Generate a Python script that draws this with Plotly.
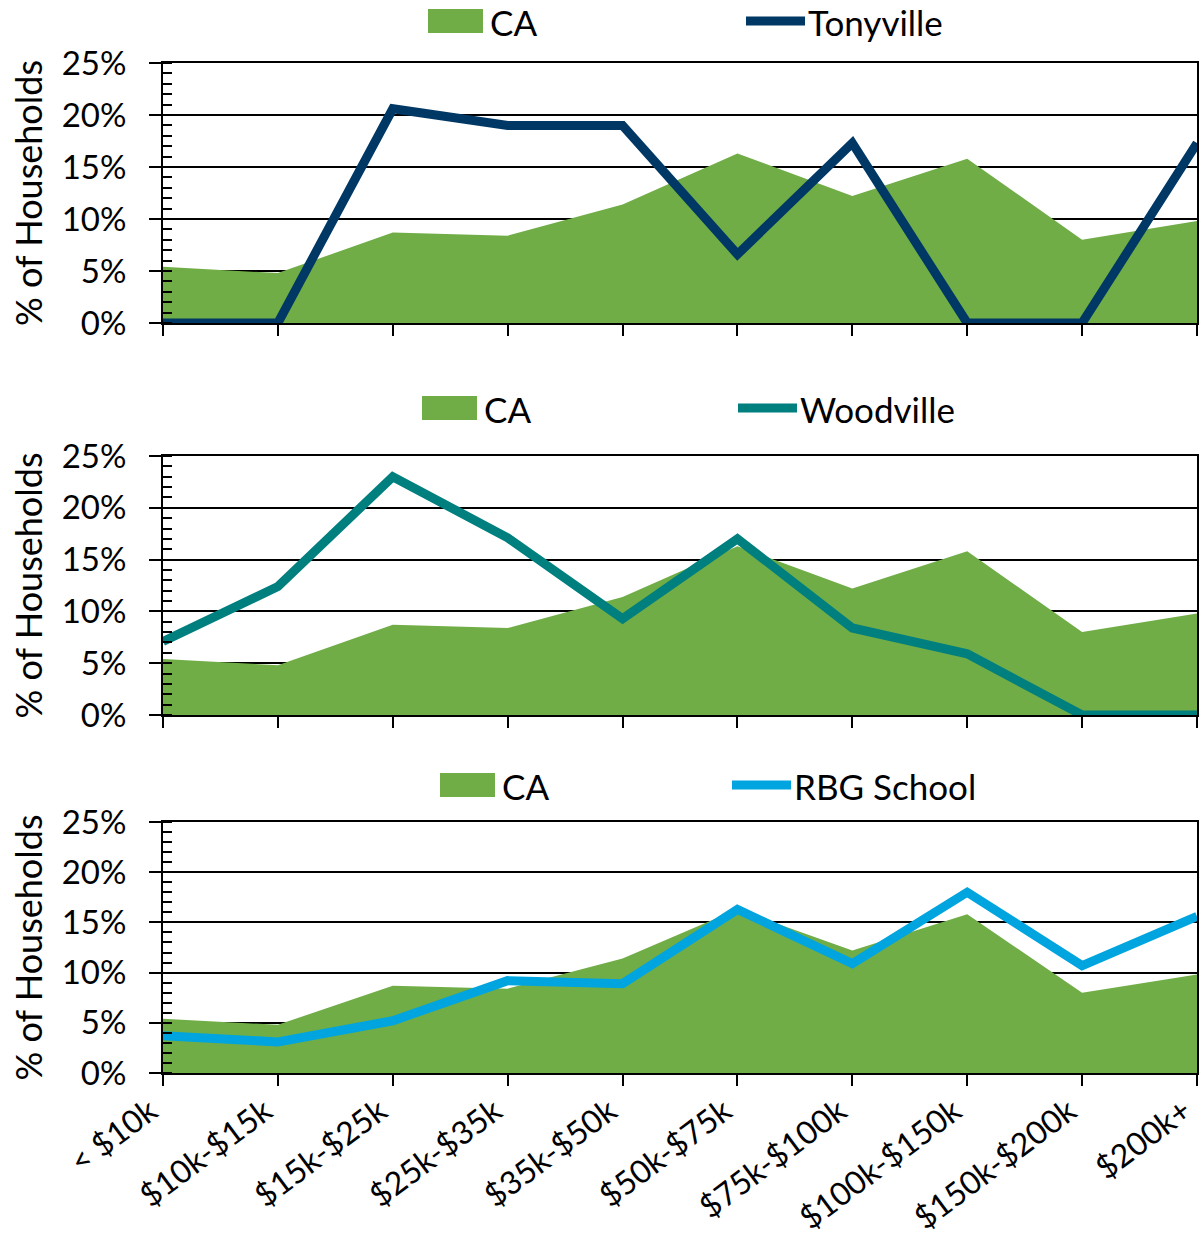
import plotly.graph_objects as go

# income brackets
categories = ["< $10k", "$10k-$15k", "$15k-$25k", "$25k-$35k", "$35k-$50k",
              "$50k-$75k", "$75k-$100k", "$100k-$150k", "$150k-$200k", "$200k+"]

# share of households (fraction)
ca = [0.054, 0.048, 0.087, 0.084, 0.114, 0.163, 0.122, 0.158, 0.080, 0.098]
tonyville = [0.0, 0.0, 0.206, 0.190, 0.190, 0.066, 0.173, 0.0, 0.0, 0.173]
woodville = [0.071, 0.124, 0.230, 0.171, 0.093, 0.170, 0.084, 0.059, 0.0, 0.0]
rbg_school = [0.037, 0.031, 0.052, 0.092, 0.089, 0.163, 0.109, 0.180, 0.107, 0.156]

panels = [("Tonyville", tonyville, "#003865"),
          ("Woodville", woodville, "#007F7F"),
          ("RBG School", rbg_school, "#00A5DF")]

GREEN = "#70AD47"
FONT = "Lato"
W, H = 1199, 1239
L, R = 163, 2
PW = W - L - R

# pixel extents of each panel (top, bottom)
panel_px = [(63, 323), (456, 715), (822, 1073)]
# legend in pixels: centre y, CA swatch left, line sample left
legend_px = [(21, 428, 743), (408, 422, 735), (785, 440, 729)]


def px_x(p):
    return (p - L) / PW


def px_y(p):
    return 1 - p / H


fig = go.Figure()

for i, (name, vals, color) in enumerate(panels):
    n = "" if i == 0 else str(i + 1)
    ax = dict(xaxis="x" + n, yaxis="y" + n)
    fig.add_trace(go.Scatter(
        x=categories, y=ca, name="CA", mode="lines",
        fill="tozeroy", fillcolor=GREEN, line=dict(color=GREEN, width=0),
        showlegend=False, **ax,
    ))
    fig.add_trace(go.Scatter(
        x=categories, y=vals, name=name, mode="lines",
        line=dict(color=color, width=9), showlegend=False, **ax,
    ))

    # legend drawn by hand so the CA swatch can be a wide block
    ly, cx, lx = legend_px[i]
    fig.add_shape(type="rect", xref="paper", yref="paper",
                  x0=px_x(cx), x1=px_x(cx + 55),
                  y0=px_y(ly - 12), y1=px_y(ly + 12),
                  fillcolor=GREEN, line_width=0)
    fig.add_annotation(text="CA", xref="paper", yref="paper",
                       x=px_x(cx + 60), y=px_y(ly + 1),
                       xanchor="left", yanchor="middle", showarrow=False,
                       font=dict(family=FONT, size=35))
    fig.add_shape(type="line", xref="paper", yref="paper",
                  x0=px_x(lx + 3), x1=px_x(lx + 62),
                  y0=px_y(ly), y1=px_y(ly),
                  line=dict(color=color, width=9))
    fig.add_annotation(text=name, xref="paper", yref="paper",
                       x=px_x(lx + 63), y=px_y(ly + 1),
                       xanchor="left", yanchor="middle", showarrow=False,
                       font=dict(family=FONT, size=35))

layout = dict(
    width=W, height=H,
    margin=dict(l=L, r=R, t=0, b=0, autoexpand=False),
    paper_bgcolor="white", plot_bgcolor="white",
    font=dict(family=FONT, size=33, color="black"),
    showlegend=False,
)

for i, (top, bot) in enumerate(panel_px):
    n = "" if i == 0 else str(i + 1)
    layout["xaxis" + n] = dict(
        type="category", range=[0, 9],
        domain=[0, 1], anchor="y" + n,
        showline=True, linecolor="black", linewidth=2, mirror=True,
        ticks="outside", ticklen=11, tickcolor="black", tickwidth=1.5,
        showticklabels=(i == 2), tickangle=-37,
        tickfont=dict(family=FONT, size=32), ticklabelshift=-13,
        ticklabelstandoff=-6,
        showgrid=False, automargin=False,
    )
    layout["yaxis" + n] = dict(
        range=[0, 0.25], dtick=0.05, tickformat=".0%",
        domain=[px_y(bot), px_y(top)], anchor="x" + n,
        showline=True, linecolor="black", linewidth=2, mirror=True,
        ticks="outside", ticklen=12, tickcolor="black", tickwidth=1.5,
        ticklabelstandoff=16,
        minor=dict(ticks="inside", ticklen=9, dtick=0.01, tickcolor="black",
                   tickwidth=1.5, showgrid=False),
        showgrid=True, gridcolor="black", gridwidth=1.5,
        zeroline=False, automargin=False,
        title=dict(text="% of Households", standoff=8,
                   font=dict(family=FONT, size=36)),
    )

fig.update_layout(**layout)
fig.write_html("out.html", config={"displayModeBar": False},
               post_script="document.body.style.margin='0';")
